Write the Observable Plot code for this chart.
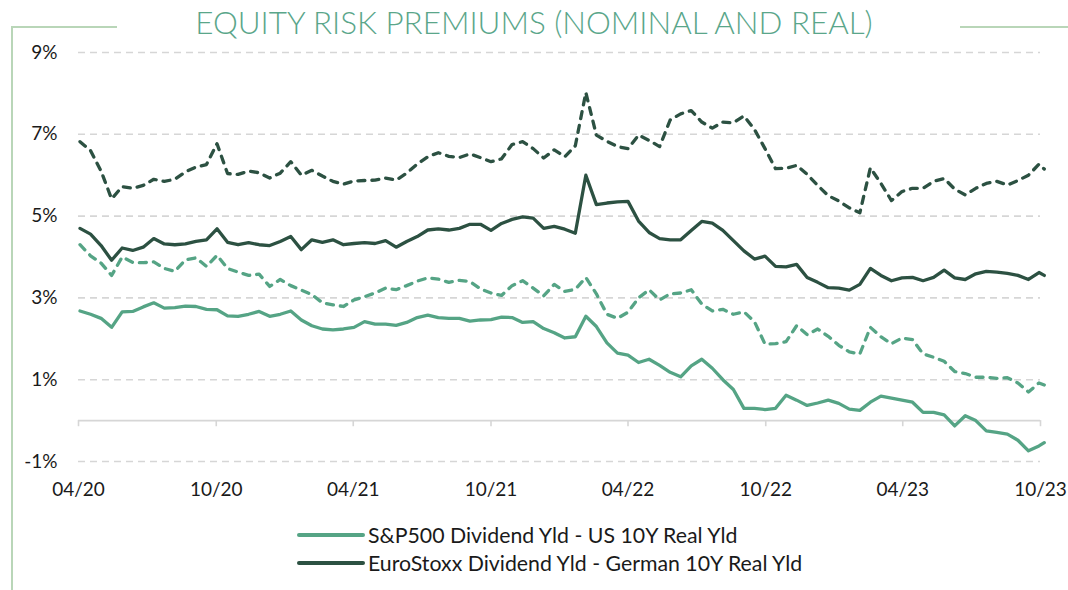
<!DOCTYPE html>
<html>
<head>
<meta charset="utf-8">
<script src="https://cdn.jsdelivr.net/npm/d3@7"></script>
<script src="https://cdn.jsdelivr.net/npm/@observablehq/plot@0.6"></script>
<style>
  html, body { margin: 0; padding: 0; background: #fff; }
  body { width: 1068px; height: 590px; position: relative; overflow: hidden; font-family: Lato, "Open Sans", sans-serif; }
  #frameLeft { position: absolute; left: 11px; top: 26px; width: 2px; height: 570px; background: #b9d6b8; }
  #frameTopL { position: absolute; left: 11px; top: 26px; width: 106px; height: 2px; background: #b9d6b8; }
  #frameTopR { position: absolute; left: 960px; top: 26px; width: 108px; height: 2px; background: #b9d6b8; }
  #title { position: absolute; left: 0; width: 1068px; top: 3px; text-align: center; font-family: Lato, sans-serif; font-weight: 300; font-size: 31.4px; color: #5aa68a; }
  #chart { position: absolute; left: 0; top: 0; }
  .leg { position: absolute; left: 297px; height: 24px; display: flex; align-items: center; font-size: 21.3px; color: #1a1a1a; }
  .leg .sw { width: 68px; height: 4px; border-radius: 2px; margin-right: 3px; }
</style>
</head>
<body>
<div id="frameLeft"></div>
<div id="frameTopL"></div>
<div id="frameTopR"></div>
<div id="chart"></div>
<div id="title">EQUITY RISK PREMIUMS (NOMINAL AND REAL)</div>
<div class="leg" style="top:523px"><div class="sw" style="background:#55a485"></div><span id="l1">S&amp;P500 Dividend Yld - US 10Y Real Yld</span></div>
<div class="leg" style="top:551px"><div class="sw" style="background:#2c5142"></div><span id="l2">EuroStoxx Dividend Yld - German 10Y Real Yld</span></div>
<script>
// Biweekly observation dates (Apr 2020 - Oct 2023)
const start = new Date(Date.UTC(2020, 3, 3));
const dates = d3.range(92).map(i => d3.utcDay.offset(start, 14 * i)).concat([new Date(Date.UTC(2023, 9, 6))]);

// EuroStoxx series (dark green), dashed
const euDashed = [6.82,6.6,6.1,5.42,5.72,5.68,5.75,5.9,5.85,5.9,6.08,6.2,6.26,6.77,6.04,6.02,6.1,6.06,5.93,
  6.05,6.33,6.0,6.12,5.98,5.85,5.78,5.86,5.87,5.88,5.93,5.88,6.05,6.27,6.45,6.55,6.46,6.43,
  6.52,6.43,6.33,6.4,6.75,6.82,6.65,6.42,6.62,6.45,6.72,8.02,6.98,6.83,6.7,6.65,6.98,6.85,
  6.7,7.35,7.5,7.58,7.3,7.15,7.3,7.28,7.45,7.12,6.65,6.16,6.17,6.24,6.02,5.75,5.5,5.37,5.2,
  5.08,6.18,5.8,5.38,5.6,5.68,5.68,5.85,5.92,5.66,5.52,5.68,5.8,5.85,5.76,5.87,6.0,6.27,6.15];
// EuroStoxx Dividend Yld - German 10Y Real Yld (dark green), solid
const euSolid = [4.7,4.56,4.28,3.92,4.22,4.16,4.24,4.45,4.32,4.3,4.32,4.38,4.42,4.69,4.36,4.3,4.35,4.3,4.28,
  4.38,4.5,4.18,4.42,4.36,4.42,4.3,4.33,4.35,4.33,4.4,4.24,4.38,4.5,4.66,4.69,4.66,4.7,
  4.8,4.8,4.65,4.82,4.92,4.98,4.95,4.7,4.75,4.68,4.58,6.0,5.28,5.32,5.35,5.36,4.88,4.6,
  4.45,4.42,4.42,4.65,4.87,4.83,4.65,4.4,4.15,3.95,4.02,3.77,3.76,3.82,3.5,3.38,3.25,3.24,3.19,
  3.33,3.72,3.55,3.42,3.49,3.5,3.42,3.5,3.68,3.49,3.45,3.59,3.65,3.63,3.6,3.55,3.45,3.62,3.55];
// S&P500 series (light green), dashed
const usDashed = [4.3,4.03,3.85,3.55,4.0,3.87,3.86,3.88,3.72,3.65,3.93,3.98,3.77,4.04,3.72,3.63,3.55,3.58,3.28,
  3.45,3.3,3.19,3.08,2.88,2.83,2.79,2.95,3.03,3.12,3.24,3.2,3.3,3.41,3.49,3.46,3.38,3.43,
  3.4,3.22,3.12,3.06,3.3,3.42,3.24,3.05,3.33,3.16,3.21,3.5,3.1,2.6,2.5,2.65,3.0,3.2,
  2.95,3.1,3.12,3.2,2.85,2.68,2.72,2.6,2.66,2.42,1.87,1.88,1.93,2.32,2.1,2.24,2.06,1.84,1.68,
  1.63,2.28,2.05,1.88,2.02,1.98,1.63,1.55,1.45,1.2,1.15,1.06,1.06,1.03,1.05,0.92,0.7,0.92,0.87];
// S&P500 Dividend Yld - US 10Y Real Yld (light green), solid
const usSolid = [2.68,2.6,2.5,2.28,2.66,2.67,2.78,2.88,2.75,2.76,2.8,2.79,2.72,2.71,2.56,2.55,2.6,2.67,2.55,
  2.6,2.68,2.46,2.32,2.24,2.22,2.24,2.28,2.42,2.36,2.36,2.33,2.4,2.52,2.58,2.52,2.5,2.5,
  2.43,2.46,2.47,2.53,2.52,2.4,2.42,2.25,2.15,2.02,2.05,2.55,2.3,1.9,1.65,1.6,1.42,1.5,
  1.35,1.18,1.07,1.34,1.5,1.28,1.0,0.76,0.3,0.3,0.27,0.3,0.62,0.5,0.37,0.43,0.5,0.42,0.28,
  0.25,0.45,0.6,0.55,0.5,0.45,0.2,0.2,0.14,-0.13,0.12,0.0,-0.25,-0.29,-0.33,-0.48,-0.74,-0.62,-0.54];

const yTicks = [9, 7, 5, 3, 1, -1];
const xTicks = ["2020-04-01","2020-10-01","2021-04-01","2021-10-01","2022-04-01","2022-10-01","2023-04-01","2023-10-01"].map(s => new Date(s + "T00:00:00Z"));

const lightGreen = "#55a485";
const darkGreen = "#2c5142";

const toRows = vals => dates.map((d, i) => ({date: d, value: vals[i]}));

const chart = Plot.plot({
  width: 1068,
  height: 500,
  marginTop: 52,
  marginBottom: 39,
  marginLeft: 78,
  marginRight: 28,
  style: {fontFamily: "Lato, sans-serif", fontSize: "19px", color: "#1a1a1a", background: "transparent"},
  x: {type: "utc", domain: [xTicks[0], xTicks[xTicks.length - 1]], label: null},
  y: {domain: [-1, 9], label: null},
  marks: [
    Plot.ruleY(yTicks, {stroke: "#d6d6d6", strokeWidth: 1.6, strokeDasharray: "7,5"}),
    Plot.ruleY([0], {stroke: "#d6d6d6", strokeWidth: 1.6}),
    Plot.ruleX(xTicks, {y1: 0, y2: -0.15, stroke: "#d6d6d6", strokeWidth: 1.6}),
    Plot.axisY(yTicks, {tickSize: 0, tickPadding: 21, tickFormat: d => d + "%", fontSize: 19, label: null}),
    Plot.axisX(xTicks, {tickSize: 0, tickPadding: 21, tickFormat: d3.utcFormat("%m/%y"), fontSize: 19, label: null}),
    Plot.line(toRows(euDashed), {x: "date", y: "value", stroke: darkGreen, strokeWidth: 3.3, strokeDasharray: "7,7", strokeLinecap: "round", strokeLinejoin: "round"}),
    Plot.line(toRows(usDashed), {x: "date", y: "value", stroke: lightGreen, strokeWidth: 3.3, strokeDasharray: "7,7", strokeLinecap: "round", strokeLinejoin: "round"}),
    Plot.line(toRows(euSolid), {x: "date", y: "value", stroke: darkGreen, strokeWidth: 3.3, strokeLinejoin: "round"}),
    Plot.line(toRows(usSolid), {x: "date", y: "value", stroke: lightGreen, strokeWidth: 3.3, strokeLinejoin: "round"})
  ]
});
document.getElementById("chart").appendChild(chart);
</script>
</body>
</html>
